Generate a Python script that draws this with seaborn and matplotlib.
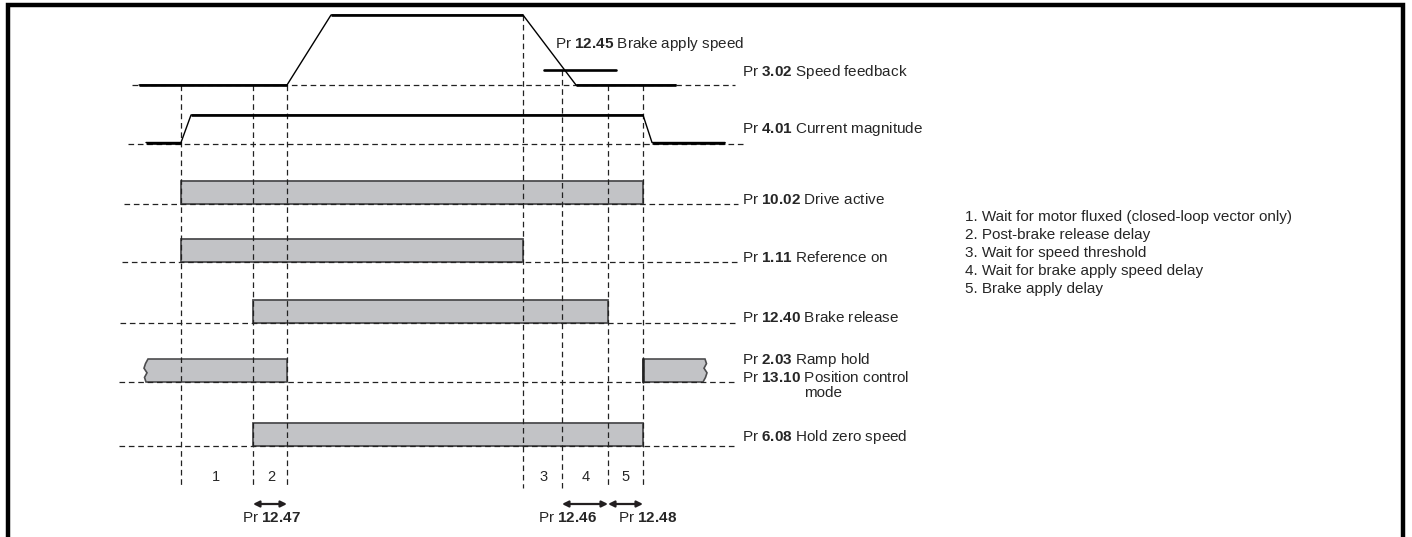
import numpy as np
import pandas as pd
import matplotlib.pyplot as plt
import seaborn as sns

# event instants (vertical dashed markers) and where each marker starts
events = [181, 253, 287, 523, 562, 608, 643]
event_tops = [85, 85, 85, 15, 70, 85, 85]
event_bottom = 488

# Pr 3.02 speed feedback
speed_t = [139, 287, 331, 523, 576, 676]
speed_v = [85, 85, 15, 15, 85, 85]
brake_speed_t = [544, 616]
brake_speed_v = 70

# Pr 4.01 current magnitude
current_t = [146, 181, 191, 643, 652, 725]
current_v = [142.5, 142.5, 115, 115, 142.5, 142.5]

# logic signals drawn as bars
sig_num = ['10.02', '1.11', '12.40', '6.08']
sig_name = ['Drive active', 'Reference on', 'Brake release', 'Hold zero speed']
sig_on = [181, 181, 253, 253]
sig_off = [643, 523, 608, 643]
sig_base = [204, 262, 323, 446]
sig_label_y = [199, 257, 317, 437]

# ramp hold / position control (two pieces with torn ends)
ramp_on = [145, 643]
ramp_off = [287, 705]
ramp_base = 382

# baselines of every row
row_base = [85, 144, 204, 262, 323, 382, 446]
row_start = [132, 128, 124, 122, 120, 119, 119]
row_end = [735, 743, 738, 738, 736, 735, 735]

# region numbers and delay parameters
regions = ['1', '2', '3', '4', '5']
region_x = [216, 271, 544, 586, 626]
delay_from = [253, 562, 608]
delay_to = [287, 608, 643]
delay_num = ['12.47', '12.46', '12.48']
delay_label_x = [271, 568, 648]

notes = ['1. Wait for motor fluxed (closed-loop vector only)',
         '2. Post-brake release delay',
         '3. Wait for speed threshold',
         '4. Wait for brake apply speed delay',
         '5. Brake apply delay']

sns.set_theme(style='white')
plt.rcParams['font.family'] = ['Liberation Sans', 'DejaVu Sans']
plt.rcParams['mathtext.fontset'] = 'custom'
plt.rcParams['mathtext.rm'] = 'Liberation Sans'
plt.rcParams['mathtext.bf'] = 'Liberation Sans:bold'

W, H = 1412, 537
fig = plt.figure(figsize=(W / 100, H / 100), dpi=100)
ax = fig.add_axes([0, 0, 1, 1])
ax.set_xlim(0, W)
ax.set_ylim(H, 0)
ax.axis('off')

FS = 11
BAR_FC = '#c2c3c6'
BAR_EC = '#4d4d4f'
DASH = (0, (4.5, 3))

def pr(num):
    return r'Pr $\mathbf{' + num + '}$'

# frame
ax.plot([8, 8, 1402.5, 1402.5], [H + 5, 5, 5, H + 5], color='black', lw=3.2,
        solid_joinstyle='miter', zorder=5)

# row baselines
for y, a, b in zip(row_base, row_start, row_end):
    ax.plot([a, b], [y, y], color='#222222', lw=0.9, ls=DASH, zorder=3)

# vertical event markers
for x, top in zip(events, event_tops):
    ax.plot([x, x], [top, event_bottom], color='#222222', lw=0.9, ls=DASH, zorder=3)

# bars
for on, off, base in zip(sig_on, sig_off, sig_base):
    ax.bar(on, -23, width=off - on, bottom=base, align='edge',
           color=BAR_FC, edgecolor=BAR_EC, linewidth=1.3, zorder=2)

# ramp hold pieces with torn edge
top = ramp_base - 23
wave = np.array([0, -2.5, -4, -1, -3.5, -2])
wy = np.linspace(top, ramp_base, len(wave))
xs = np.r_[ramp_on[0] + 3 + wave, ramp_off[0], ramp_off[0]]
ys = np.r_[wy, ramp_base, top]
ax.fill(xs, ys, facecolor=BAR_FC, edgecolor=BAR_EC, lw=1.2, zorder=2)
xs = np.r_[ramp_on[1], ramp_on[1], ramp_off[1] - 2 - wave[::-1]]
ys = np.r_[ramp_base, top, wy]
ax.fill(xs, ys, facecolor=BAR_FC, edgecolor=BAR_EC, lw=1.2, zorder=2)
ax.plot([ramp_on[1], ramp_on[1]], [top, ramp_base], color='#222222', lw=1.8, zorder=3)

# analogue traces: thin transitions, thick levels
for t, v in [(speed_t, speed_v), (current_t, current_v)]:
    df = pd.DataFrame({'t': t, 'v': v})
    sns.lineplot(data=df, x='t', y='v', ax=ax, color='black', lw=1.0,
                 sort=False, estimator=None, zorder=4)
    for i in range(len(t) - 1):
        if v[i] == v[i + 1]:
            ax.plot(t[i:i + 2], v[i:i + 2], color='black', lw=1.9,
                    solid_capstyle='butt', zorder=4)
ax.plot(brake_speed_t, [brake_speed_v] * 2, color='black', lw=1.9, zorder=4)

# labels
LX = 742
ax.text(555, 44, pr('12.45') + ' Brake apply speed', fontsize=FS, va='center')
ax.text(LX, 72, pr('3.02') + ' Speed feedback', fontsize=FS, va='center')
ax.text(LX, 129, pr('4.01') + ' Current magnitude', fontsize=FS, va='center')
for num, name, y in zip(sig_num, sig_name, sig_label_y):
    ax.text(LX, y, pr(num) + ' ' + name, fontsize=FS, va='center')
ax.text(LX, 360, pr('2.03') + ' Ramp hold', fontsize=FS, va='center')
ax.text(LX, 378, pr('13.10') + ' Position control', fontsize=FS, va='center')
ax.text(804, 393, 'mode', fontsize=FS, va='center')

for r, x in zip(regions, region_x):
    ax.text(x, 477, r, fontsize=10.5, ha='center', va='center')

for a, b, num, lx in zip(delay_from, delay_to, delay_num, delay_label_x):
    ax.annotate('', xy=(a, 504), xytext=(b, 504),
                arrowprops=dict(arrowstyle='<|-|>', color='#231f20', lw=1.6,
                                mutation_scale=9, shrinkA=0, shrinkB=0))
    ax.text(lx, 518, pr(num), fontsize=FS, ha='center', va='center')

for i, line in enumerate(notes):
    ax.text(965, 217 + 18 * i, line, fontsize=FS, va='center')

fig.savefig('out.png', dpi=100)
